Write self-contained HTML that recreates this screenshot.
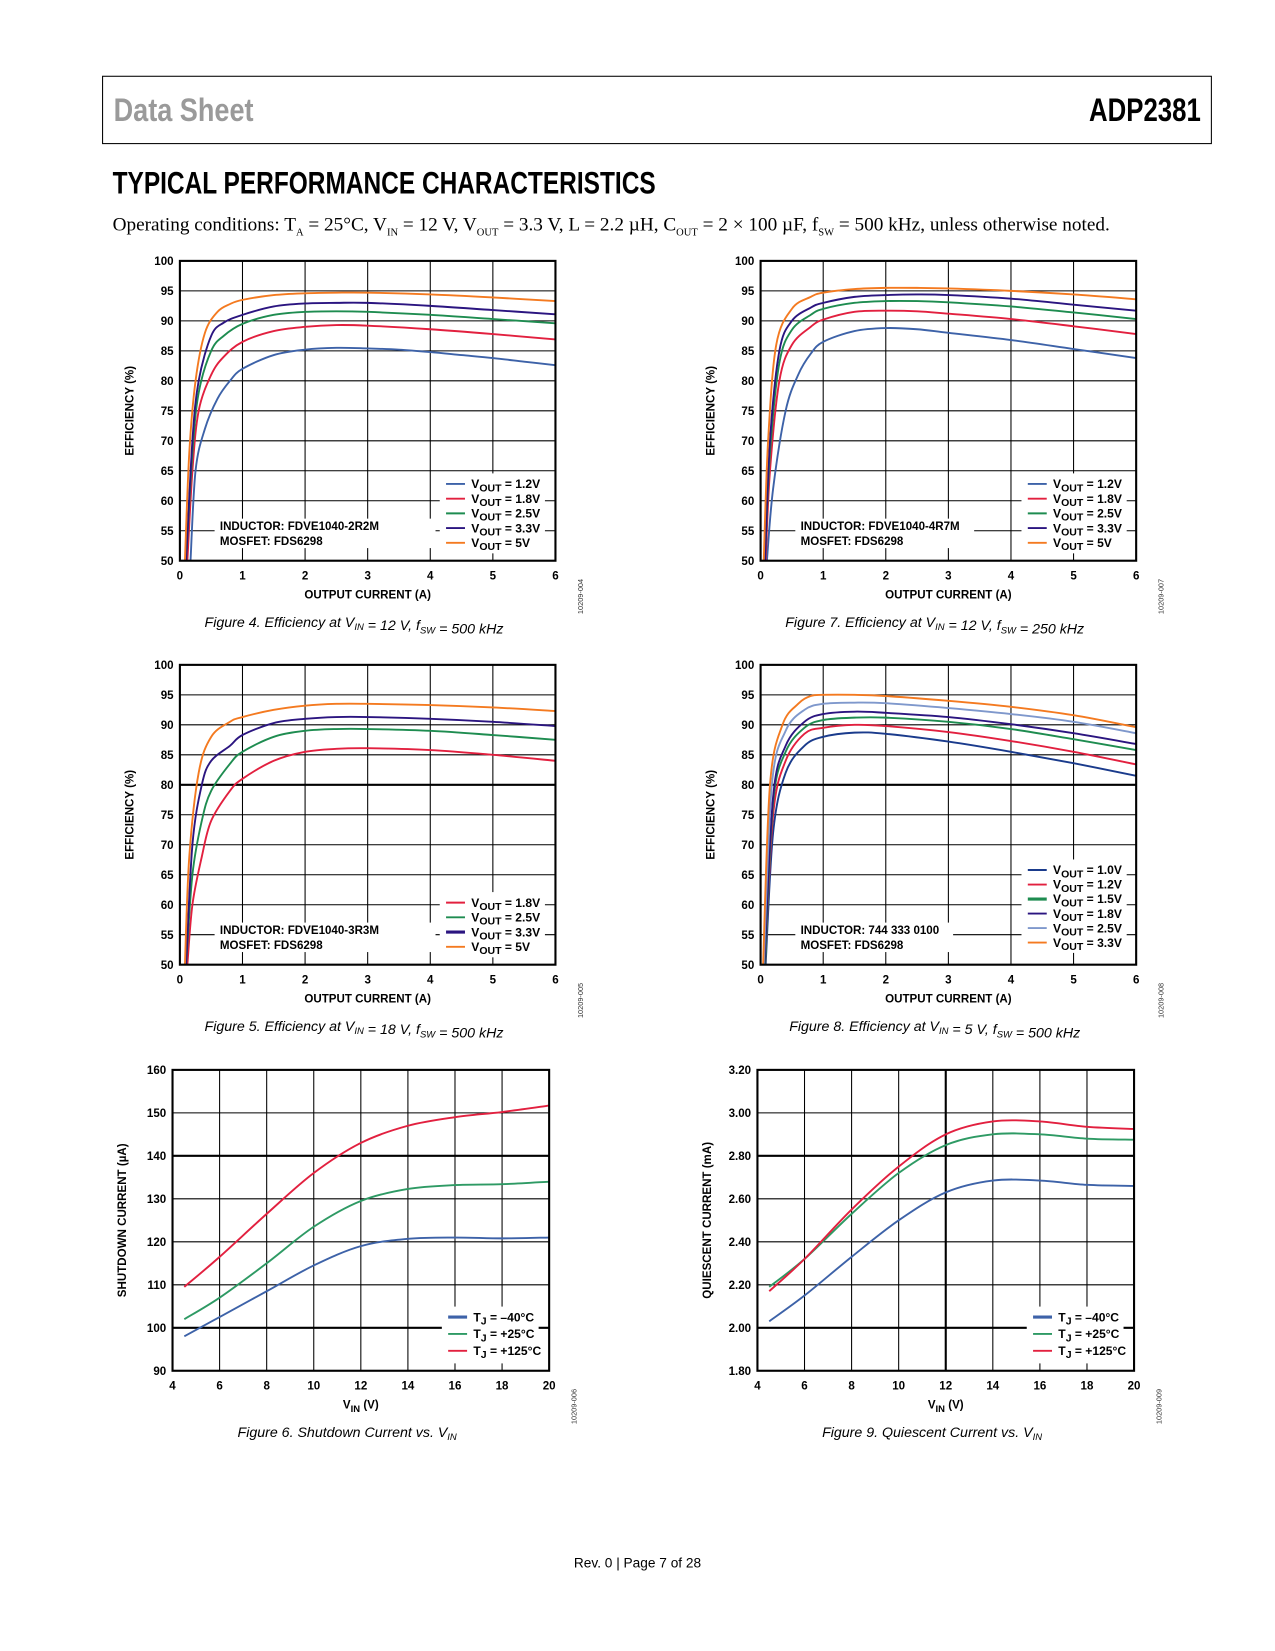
<!DOCTYPE html>
<html><head><meta charset="utf-8">
<style>
html,body{margin:0;padding:0;background:#fff;}
body{width:1275px;height:1650px;overflow:hidden;position:relative;}
#wrap{position:absolute;left:0;top:0;width:1212px;height:1569px;transform:scale(1.052);transform-origin:0 0;}
.hdr{position:absolute;left:97px;top:72px;width:1053px;height:63px;border:1.5px solid #000;}
.ds{position:absolute;left:10px;top:14px;font:bold 31px "Liberation Sans Narrow","Liberation Sans",sans-serif;color:#9a9a9a;transform:scaleX(0.83);transform-origin:0 0;}
.pn{position:absolute;right:10px;top:14px;font:bold 31px "Liberation Sans Narrow","Liberation Sans",sans-serif;color:#000;transform:scaleX(0.79);transform-origin:100% 0;}
.title{position:absolute;left:107px;top:158px;font:bold 30px "Liberation Sans Narrow","Liberation Sans",sans-serif;transform:scaleX(0.775);transform-origin:0 0;white-space:nowrap;}
.cond{position:absolute;left:107px;top:203px;font:18.3px "Liberation Serif",serif;white-space:nowrap;}
.foot{position:absolute;left:0;width:1212px;top:1478px;text-align:center;font:13px "Liberation Sans",sans-serif;}
svg{position:absolute;left:0;top:0;}
</style></head><body>
<div id="wrap">
<div class="hdr"><span class="ds">Data Sheet</span><span class="pn">ADP2381</span></div>
<div class="title">TYPICAL PERFORMANCE CHARACTERISTICS</div>
<div class="cond">Operating conditions: T<sub style="font-size:10px">A</sub> = 25°C, V<sub style="font-size:10px">IN</sub> = 12 V, V<sub style="font-size:10px">OUT</sub> = 3.3 V, L = 2.2 µH, C<sub style="font-size:10px">OUT</sub> = 2 × 100 µF, f<sub style="font-size:10px">SW</sub> = 500 kHz, unless otherwise noted.</div>
<svg id="charts" width="1212" height="1569"></svg>
<div class="foot">Rev. 0 | Page 7 of 28</div>
</div>
<script>
// ---- Figure 4 data (VIN=12V, 500kHz) ----
const fig4_v12=[[0.17,50],[0.25,65],[0.4,72],[0.6,77],[0.8,80],[1,82],[1.5,84.3],[2,85.2],[2.5,85.5],[3,85.4],[3.5,85.2],[4,84.8],[4.5,84.3],[5,83.8],[5.5,83.2],[6,82.6]];
const fig4_v18=[[0.12,50],[0.2,65],[0.3,75],[0.5,81],[0.7,84],[1,86.5],[1.5,88.3],[2,89],[2.5,89.3],[3,89.2],[4,88.6],[5,87.8],[6,86.9]];
const fig4_v25=[[0.1,50],[0.2,68],[0.3,78],[0.5,85],[0.7,87.5],[1,89.5],[1.5,91],[2,91.5],[2.5,91.6],[3,91.5],[4,91],[5,90.3],[6,89.6]];
const fig4_v33=[[0.1,50],[0.2,70],[0.3,80],[0.5,87.5],[0.7,89.7],[1,91],[1.5,92.4],[2,92.9],[2.5,93],[3,93],[4,92.5],[5,91.8],[6,91.1]];
const fig4_v50=[[0.08,50],[0.15,68],[0.25,80],[0.4,88],[0.6,91.5],[0.8,92.8],[1,93.5],[1.5,94.3],[2,94.6],[2.5,94.7],[3,94.7],[4,94.4],[5,93.9],[6,93.3]];
// ---- Figure 7 data (VIN=12V, 250kHz) ----
const fig7_v12=[[0.1,50],[0.2,62],[0.4,75],[0.6,81],[0.8,84.5],[1,86.5],[1.5,88.3],[2,88.8],[2.5,88.6],[3,88],[4,86.8],[5,85.3],[6,83.8]];
const fig7_v18=[[0.08,50],[0.15,65],[0.3,80],[0.5,86],[0.8,89],[1,90.2],[1.5,91.5],[2,91.7],[2.5,91.6],[3,91.2],[4,90.3],[5,89.1],[6,87.8]];
const fig7_v25=[[0.07,50],[0.15,68],[0.3,83],[0.5,88.5],[0.8,91],[1,92],[1.5,93],[2,93.3],[2.5,93.3],[3,93.1],[4,92.4],[5,91.4],[6,90.3]];
const fig7_v33=[[0.07,50],[0.15,70],[0.3,85],[0.5,90],[0.8,92.2],[1,93],[1.5,94],[2,94.3],[2.5,94.4],[3,94.3],[4,93.7],[5,92.7],[6,91.7]];
const fig7_v50=[[0.05,50],[0.12,70],[0.25,86],[0.5,92],[0.8,94],[1,94.7],[1.5,95.3],[2,95.5],[2.5,95.5],[3,95.4],[4,95],[5,94.4],[6,93.6]];
// ---- Figure 5 data (VIN=18V) ----
const fig5_v18=[[0.12,50],[0.2,60],[0.35,68],[0.5,74],[0.8,79],[1,81],[1.5,84],[2,85.5],[2.5,86],[3,86.1],[4,85.8],[5,85],[6,84]];
const fig5_v25=[[0.1,50],[0.2,65],[0.35,74],[0.5,79],[0.8,83.5],[1,85.5],[1.5,88],[2,89],[2.5,89.3],[3,89.3],[4,89],[5,88.3],[6,87.5]];
const fig5_v33=[[0.1,50],[0.2,70],[0.35,80],[0.5,84],[0.8,86.5],[1,88.3],[1.5,90.3],[2,91],[2.5,91.3],[3,91.3],[4,91],[5,90.5],[6,89.8]];
const fig5_v50=[[0.08,50],[0.15,68],[0.3,82],[0.5,88],[0.8,90.5],[1,91.3],[1.5,92.5],[2,93.2],[2.5,93.5],[3,93.5],[4,93.3],[5,92.9],[6,92.3]];
// ---- Figure 8 data (VIN=5V) ----
const fig8_v10=[[0.08,50],[0.2,72],[0.4,82],[0.7,86.5],[1,88],[1.5,88.7],[2,88.5],[3,87.2],[4,85.5],[5,83.6],[6,81.5]];
const fig8_v12=[[0.07,50],[0.2,75],[0.4,84],[0.7,88.5],[1,89.5],[1.5,90],[2,89.8],[3,88.8],[4,87.3],[5,85.5],[6,83.4]];
const fig8_v15=[[0.07,50],[0.2,77],[0.4,85.5],[0.7,89.5],[1,90.8],[1.5,91.2],[2,91.2],[3,90.5],[4,89.3],[5,87.6],[6,85.8]];
const fig8_v18=[[0.06,50],[0.2,78],[0.4,86.5],[0.7,90.5],[1,91.8],[1.5,92.2],[2,92],[3,91.3],[4,90.1],[5,88.6],[6,86.8]];
const fig8_v25=[[0.05,50],[0.18,80],[0.4,89],[0.7,92.5],[1,93.5],[1.5,93.7],[2,93.6],[3,92.8],[4,91.8],[5,90.5],[6,88.6]];
const fig8_v33=[[0.04,50],[0.15,80],[0.35,90],[0.6,93.5],[0.8,94.8],[1,95],[1.5,95],[2,94.8],[3,94],[4,93],[5,91.6],[6,89.6]];
// ---- Figure 6 data (shutdown current) ----
const fig6_vin=[4.5,6,8,10,12,14,16,18,20];
const fig6_m40=[98,102.5,108.5,114.5,119,120.7,121,120.8,121];
const fig6_p25=[102,107,115,123.5,129.5,132.3,133.2,133.4,134];
const fig6_p125=[109.5,116.5,126.5,136,143,147,149,150.2,151.7];
// ---- Figure 9 data (quiescent current) ----
const fig9_vin=[4.5,6,8,10,12,14,16,18,20];
const fig9_m40=[2.03,2.15,2.33,2.50,2.63,2.685,2.685,2.665,2.66];
const fig9_p25=[2.19,2.32,2.53,2.72,2.85,2.9,2.9,2.88,2.875];
const fig9_p125=[2.17,2.32,2.55,2.75,2.9,2.96,2.96,2.935,2.925];
// ---- tick labels ----
const effTicks=[50,55,60,65,70,75,80,85,90,95,100];
const currTicks=[0,1,2,3,4,5,6];
const vinTicks=[4,6,8,10,12,14,16,18,20];
const sdTicks=[90,100,110,120,130,140,150,160];
const qTicks=[1.80,2.00,2.20,2.40,2.60,2.80,3.00,3.20];

const NS='http://www.w3.org/2000/svg';
const root=document.getElementById('charts');
function mk(tag,attrs,parent){const e=document.createElementNS(NS,tag);for(const k in attrs)e.setAttribute(k,attrs[k]);(parent||root).appendChild(e);return e;}
function zip(xs,ys){return xs.map((x,i)=>[x,ys[i]]);}
function smooth(pts){
  let d='M'+pts[0][0].toFixed(1)+','+pts[0][1].toFixed(1);
  for(let i=0;i<pts.length-1;i++){
    const p0=pts[Math.max(0,i-1)],p1=pts[i],p2=pts[i+1],p3=pts[Math.min(pts.length-1,i+2)];
    const c1=[p1[0]+(p2[0]-p0[0])/6,p1[1]+(p2[1]-p0[1])/6];
    const c2=[p2[0]-(p3[0]-p1[0])/6,p2[1]-(p3[1]-p1[1])/6];
    d+=' C'+c1.join(',')+' '+c2.join(',')+' '+p2[0]+','+p2[1];
  }
  return d;
}
const C={blue:'#3d62a8',red:'#e2203f',green:'#1e8c50',navy:'#2b1580',orange:'#f47a20',dblue:'#1a3b8c',lblue:'#7f98cc',sgreen:'#2e9a64'};
let cid=0;
function chart(cfg){
  const g=mk('g',{});
  
  
  const {x0,y0,w,h,xmin,xmax,ymin,ymax}=cfg;
  const sx=v=>x0+(v-xmin)/(xmax-xmin)*w;
  const sy=v=>y0+h-(v-ymin)/(ymax-ymin)*h;
  cfg.xticks.forEach(t=>{const l=mk('line',{x1:sx(t),x2:sx(t),y1:y0,y2:y0+h,stroke:'#000','stroke-width':(cfg.boldX||[]).includes(t)?2:1},g);});
  cfg.yticks.forEach(t=>{const l=mk('line',{x1:x0,x2:x0+w,y1:sy(t),y2:sy(t),stroke:'#000','stroke-width':(cfg.boldY||[]).includes(t)?2:1},g);});
  cfg.yticks.forEach(t=>{const tx=mk('text',{x:x0-6,y:sy(t)+4,'text-anchor':'end','font-family':'Liberation Sans, sans-serif','font-weight':'bold','font-size':11},g);tx.textContent=cfg.yfmt?cfg.yfmt(t):t;});
  cfg.xticks.forEach(t=>{const tx=mk('text',{x:sx(t),y:y0+h+18,'text-anchor':'middle','font-family':'Liberation Sans, sans-serif','font-weight':'bold','font-size':11},g);tx.textContent=t;});
  if(cfg.note){const n=cfg.note;const r=mk('rect',{x:n.x-5,y:n.y-11,width:n.w,height:28,fill:'#fff'},g);
    n.lines.forEach((s,i)=>{const tx=mk('text',{x:n.x,y:n.y+i*14,'font-family':'Liberation Sans, sans-serif','font-weight':'bold','font-size':11},g);tx.textContent=s;});}
  const L=cfg.legend;
  const lb=mk('rect',{x:L.x-6,y:L.y-10,width:L.w,height:cfg.series.length*L.step+6,fill:'#fff'},g);
  
  cid++;const cp=mk('clipPath',{id:'cp'+cid},g);mk('rect',{x:x0,y:y0,width:w,height:h},cp);
  cfg.series.forEach((s,i)=>{
    const pts=s.data.map(p=>[sx(p[0]),sy(p[1])]);
    const p=mk('path',{d:smooth(pts),fill:'none',stroke:s.color,'stroke-width':1.8,'clip-path':'url(#cp'+cid+')'},g);
    
    const ly=L.y+i*L.step;
    const ll=mk('line',{x1:L.x,x2:L.x+18,y1:ly,y2:ly,stroke:s.color,'stroke-width':s.thick?3:1.8},g);
    
    const tx=mk('text',{x:L.x+24,y:ly+4,'font-family':'Liberation Sans, sans-serif','font-weight':'bold','font-size':11.5},g);
    
    const a=document.createElementNS(NS,'tspan');a.textContent=s.pre;tx.appendChild(a);
    const b=document.createElementNS(NS,'tspan');b.setAttribute('dy','3');b.setAttribute('font-size','10');b.textContent=s.sub;tx.appendChild(b);
    const c=document.createElementNS(NS,'tspan');c.setAttribute('dy','-3');c.textContent=s.post;tx.appendChild(c);
  });
  const fr=mk('rect',{x:x0,y:y0,width:w,height:h,fill:'none',stroke:'#000','stroke-width':2},g);
  
  const yt=mk('text',{x:0,y:0,transform:`translate(${x0-44},${y0+h/2}) rotate(-90)`,'text-anchor':'middle','font-family':'Liberation Sans, sans-serif','font-weight':'bold','font-size':11},g);
  yt.textContent=cfg.ytitle;
  const xt=mk('text',{x:x0+w/2,y:y0+h+36,'text-anchor':'middle','font-family':'Liberation Sans, sans-serif','font-weight':'bold','font-size':11},g);
  
  if(cfg.xsub){const a=document.createElementNS(NS,'tspan');a.textContent='V';xt.appendChild(a);const b=document.createElementNS(NS,'tspan');b.setAttribute('dy','3');b.setAttribute('font-size','9');b.textContent='IN';xt.appendChild(b);const c=document.createElementNS(NS,'tspan');c.setAttribute('dy','-3');c.textContent=' (V)';xt.appendChild(c);}
  else xt.textContent=cfg.xtitle;
  const id=mk('text',{x:0,y:0,transform:`translate(${x0+w+26},${y0+h+34}) rotate(-90)`,'text-anchor':'middle','font-family':'Liberation Sans, sans-serif','font-size':7,fill:'#333'},g);
  id.textContent=cfg.figid;
  const cap=mk('text',{x:x0+w/2-13,y:y0+h+63,'text-anchor':'middle','font-family':'Liberation Sans, sans-serif','font-style':'italic','font-size':13.5},g);
  
  cfg.caption.forEach(([t,sub])=>{const s=document.createElementNS(NS,'tspan');s.textContent=t;if(sub){s.setAttribute('font-size','9');s.setAttribute('dy','3');}cap.appendChild(s);if(sub){const r=document.createElementNS(NS,'tspan');r.setAttribute('dy','-3');r.textContent='';cap.appendChild(r);}});
}
const V=(v,col,thick)=>({pre:'V',sub:'OUT',post:' = '+v,color:col,thick:thick});
const T=(v,col,thick)=>({pre:'T',sub:'J',post:' = '+v,color:col,thick:thick});
const effBase={w:357,h:285,xmin:0,xmax:6,ymin:50,ymax:100,xticks:currTicks,yticks:effTicks,ytitle:'EFFICIENCY (%)',xtitle:'OUTPUT CURRENT (A)'};
chart(Object.assign({},effBase,{name:'figure-4-chart',x0:171,y0:248,figid:'10209-004',
  note:{x:209,y:504,w:210,lines:['INDUCTOR: FDVE1040-2R2M','MOSFET: FDS6298']},
  legend:{x:424,y:460,w:100,step:14},
  series:[Object.assign(V('1.2V',C.blue),{data:fig4_v12}),Object.assign(V('1.8V',C.red),{data:fig4_v18}),Object.assign(V('2.5V',C.green),{data:fig4_v25}),Object.assign(V('3.3V',C.navy),{data:fig4_v33}),Object.assign(V('5V',C.orange),{data:fig4_v50})],
  caption:[['Figure 4. Efficiency at V'],['IN',1],[' = 12 V, f'],['SW',1],[' = 500 kHz']]}));
chart(Object.assign({},effBase,{name:'figure-7-chart',x0:723,y0:248,figid:'10209-007',
  note:{x:761,y:504,w:170,lines:['INDUCTOR: FDVE1040-4R7M','MOSFET: FDS6298']},
  legend:{x:977,y:460,w:100,step:14},
  series:[Object.assign(V('1.2V',C.blue),{data:fig7_v12}),Object.assign(V('1.8V',C.red),{data:fig7_v18}),Object.assign(V('2.5V',C.green),{data:fig7_v25}),Object.assign(V('3.3V',C.navy),{data:fig7_v33}),Object.assign(V('5V',C.orange),{data:fig7_v50})],
  caption:[['Figure 7. Efficiency at V'],['IN',1],[' = 12 V, f'],['SW',1],[' = 250 kHz']]}));
chart(Object.assign({},effBase,{name:'figure-5-chart',x0:171,y0:632,figid:'10209-005',boldY:[80],
  note:{x:209,y:888,w:210,lines:['INDUCTOR: FDVE1040-3R3M','MOSFET: FDS6298']},
  legend:{x:424,y:858,w:100,step:14},
  series:[Object.assign(V('1.8V',C.red),{data:fig5_v18}),Object.assign(V('2.5V',C.green),{data:fig5_v25}),Object.assign(V('3.3V',C.navy,1),{data:fig5_v33}),Object.assign(V('5V',C.orange),{data:fig5_v50})],
  caption:[['Figure 5. Efficiency at V'],['IN',1],[' = 18 V, f'],['SW',1],[' = 500 kHz']]}));
chart(Object.assign({},effBase,{name:'figure-8-chart',x0:723,y0:632,figid:'10209-008',boldY:[80],
  note:{x:761,y:888,w:150,lines:['INDUCTOR: 744 333 0100','MOSFET: FDS6298']},
  legend:{x:977,y:827,w:100,step:13.8},
  series:[Object.assign(V('1.0V',C.dblue),{data:fig8_v10}),Object.assign(V('1.2V',C.red),{data:fig8_v12}),Object.assign(V('1.5V',C.green,1),{data:fig8_v15}),Object.assign(V('1.8V',C.navy),{data:fig8_v18}),Object.assign(V('2.5V',C.lblue),{data:fig8_v25}),Object.assign(V('3.3V',C.orange),{data:fig8_v33})],
  caption:[['Figure 8. Efficiency at V'],['IN',1],[' = 5 V, f'],['SW',1],[' = 500 kHz']]}));
chart({name:'figure-6-chart',x0:164,y0:1017,w:358,h:286,xmin:4,xmax:20,ymin:90,ymax:160,xticks:vinTicks,yticks:sdTicks,boldY:[140,100],figid:'10209-006',
  ytitle:'SHUTDOWN CURRENT (µA)',xsub:1,legend:{x:426,y:1252,w:92,step:16},
  series:[Object.assign(T('–40°C',C.blue,1),{data:zip(fig6_vin,fig6_m40)}),Object.assign(T('+25°C',C.sgreen),{data:zip(fig6_vin,fig6_p25)}),Object.assign(T('+125°C',C.red),{data:zip(fig6_vin,fig6_p125)})],
  caption:[['Figure 6. Shutdown Current vs. V'],['IN',1]]});
chart({name:'figure-9-chart',x0:720,y0:1017,w:358,h:286,xmin:4,xmax:20,ymin:1.8,ymax:3.2,xticks:vinTicks,yticks:qTicks,boldY:[2.8,2.0],boldX:[12],yfmt:t=>t.toFixed(2),figid:'10209-009',
  ytitle:'QUIESCENT CURRENT (mA)',xsub:1,legend:{x:982,y:1252,w:92,step:16},
  series:[Object.assign(T('–40°C',C.blue,1),{data:zip(fig9_vin,fig9_m40)}),Object.assign(T('+25°C',C.sgreen),{data:zip(fig9_vin,fig9_p25)}),Object.assign(T('+125°C',C.red),{data:zip(fig9_vin,fig9_p125)})],
  caption:[['Figure 9. Quiescent Current vs. V'],['IN',1]]});
</script>
</body></html>
